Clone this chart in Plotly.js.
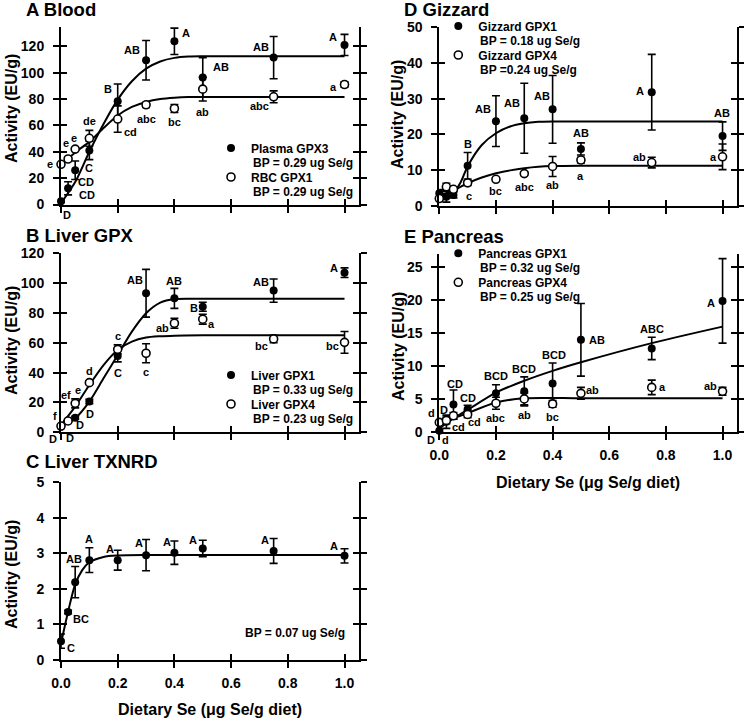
<!DOCTYPE html>
<html>
<head>
<meta charset="utf-8">
<script src="https://cdn.plot.ly/plotly-3.0.1.min.js"></script>
<style>
html,body{margin:0;padding:0;background:#fff;}
#chart{width:744px;height:719px;}
</style>
</head>
<body>
<div id="chart"></div>
<script>
// ---------------- DATA ----------------
const dose = [0, 0.025, 0.05, 0.1, 0.2, 0.3, 0.4, 0.5, 0.75, 1.0];

// A Blood
const plasmaGPX3 = [2.5, 12.3, 26, 41, 78.4, 109.4, 123.8, 96.3, 111.4, 121];
const plasmaGPX3Err = [1, 5, 7, 7, 13, 15, 10, 15, 16, 8];
const plasmaGPX3Letters = ['D','CD','CD','C','B','AB','A','AB','AB','A'];
const rbcGPX1 = [30.5, 34.5, 42, 50.2, 64.8, 75.6, 72.8, 87.5, 81.7, 91];
const rbcGPX1Err = [1, 1, 1, 6, 10, 2, 3, 9, 4.5, 2];
const rbcGPX1Letters = ['e','e','e','de','cd','abc','bc','ab','abc','a'];
const bloodFitX = [0, 0.05, 0.1, 0.15, 0.2, 0.25, 0.3, 0.35, 0.4, 0.45, 0.5, 0.75, 1.0];
const plasmaFitY = [1, 17, 40, 61, 79.5, 93.5, 103, 108.5, 111.2, 112.2, 112.4, 112.4, 112.4];
const rbcFitY = [30, 39.5, 47.5, 58, 67.5, 74, 77.8, 80, 81, 81.5, 81.6, 81.6, 81.6];

// B Liver GPX
const liverGPX1 = [3.8, 7.6, 9.8, 20.6, 51.2, 93.2, 89.8, 84.2, 95, 107];
const liverGPX1Err = [0.5, 0.5, 1, 1.5, 4, 16, 6.7, 3, 7.8, 3.2];
const liverGPX1Letters = ['D','D','D','D','C','AB','AB','B','AB','A'];
const liverGPX4 = [4.2, 7.6, 19.4, 33.3, 55.6, 53, 73.1, 75.8, 62.6, 60.3];
const liverGPX4Err = [0.5, 0.5, 3, 1, 3, 6.4, 3.3, 3.3, 2.5, 7.3];
const liverGPX4Letters = ['f','ef','e','d','c','c','ab','a','bc','bc'];
const liverFitX = [0, 0.05, 0.1, 0.15, 0.2, 0.25, 0.3, 0.35, 0.4, 0.5, 0.75, 1.0];
const liverGPX1FitY = [3.8, 9.4, 20.6, 36.2, 51.8, 67.5, 79.8, 86.9, 89.3, 89.5, 89.5, 89.5];
const liverGPX4FitY = [4.9, 17.2, 31.7, 45.1, 55.2, 60.8, 63.5, 64.4, 64.8, 65, 65, 65];

// C Liver TXNRD
const liverTXNRD = [0.53, 1.35, 2.19, 2.81, 2.81, 2.95, 3.02, 3.14, 3.07, 2.93];
const liverTXNRDErr = [0.2, 0.05, 0.44, 0.35, 0.28, 0.44, 0.33, 0.23, 0.35, 0.2];
const liverTXNRDLetters = ['C','BC','AB','A','A','A','A','A','A','A'];
const txnrdFitX = [0, 0.025, 0.05, 0.075, 0.1, 0.15, 0.2, 0.3, 0.5, 1.0];
const txnrdFitY = [0.47, 1.36, 2.13, 2.53, 2.75, 2.9, 2.94, 2.955, 2.955, 2.955];

// D Gizzard
const gizzardGPX1 = [3.5, 2.5, 3.0, 11.2, 23.7, 24.5, 27, 15.9, 31.8, 19.5];
const gizzardGPX1Err = [1, 1.5, 0.8, 3.7, 7.1, 9.8, 9.5, 1.7, 10.6, 4];
const gizzardGPX1Letters = ['','','','B','AB','AB','AB','AB','A','AB'];
const gizzardGPX4 = [2.0, 5.3, 4.6, 6.4, 7.4, 9.0, 11.0, 12.8, 12.1, 13.7];
const gizzardGPX4Err = [0.5, 1, 0.5, 0.7, 0.5, 0.5, 2.8, 0.8, 1.5, 3.6];
const gizzardGPX4Letters = ['','','','c','bc','abc','ab','a','ab','a'];
const gizzardFitX = [0, 0.025, 0.05, 0.075, 0.1, 0.15, 0.2, 0.25, 0.3, 0.35, 0.4, 0.5, 0.75, 1.0];
const gizzardGPX1FitY = [3.3, 3.4, 3.7, 6.5, 11, 17, 20.3, 22.2, 23.1, 23.5, 23.6, 23.6, 23.6, 23.6];
const gizzardGPX4FitY = [2.7, 3.4, 4.2, 5.3, 6.3, 7.9, 9.1, 9.9, 10.5, 10.9, 11.1, 11.2, 11.2, 11.2];

// E Pancreas
const pancreasGPX1 = [0.25, 1.6, 4.2, 3.5, 5.9, 6.2, 7.4, 14.0, 12.7, 19.9];
const pancreasGPX1Err = [0.2, 1, 2.2, 0.6, 1.3, 2.2, 3.1, 5.5, 1.7, 6.4];
const pancreasGPX1Letters = ['D','D','CD','CD','BCD','BCD','BCD','AB','ABC','A'];
const pancreasGPX4 = [1.5, 1.8, 2.5, 2.7, 4.4, 5.05, 4.3, 5.9, 6.8, 6.2];
const pancreasGPX4Err = [0.3, 0.5, 0.5, 0.5, 0.9, 0.9, 0.5, 0.9, 1.1, 0.6];
const pancreasGPX4Letters = ['d','d','cd','cd','abc','ab','bc','ab','a','ab'];
const pancreasGPX1FitX = [0, 0.05, 0.1, 0.2, 0.3, 0.4, 0.5, 0.75, 1.0];
const pancreasGPX1FitY = [0.6, 2.1, 3.4, 6.0, 7.8, 9.3, 10.6, 13.5, 16.0];
const pancreasGPX4FitX = [0, 0.05, 0.1, 0.2, 0.3, 0.5, 0.75, 1.0];
const pancreasGPX4FitY = [1.0, 2.1, 2.9, 4.5, 5.15, 5.15, 5.15, 5.15];

const panelTitles = ['A Blood', 'B Liver GPX', 'C Liver TXNRD', 'D Gizzard', 'E Pancreas'];
const yAxisTitle = 'Activity (EU/g)';
const xAxisTitle = 'Dietary Se (\u03bcg Se/g diet)';
const seriesNames = {
  plasma: 'Plasma GPX3', rbc: 'RBC GPX1',
  liver1: 'Liver GPX1', liver4: 'Liver GPX4',
  giz1: 'Gizzard GPX1', giz4: 'Gizzard GPX4',
  pan1: 'Pancreas GPX1', pan4: 'Pancreas GPX4'
};
const bpTexts = {
  plasma: 'BP = 0.29 ug Se/g', rbc: 'BP = 0.29 ug Se/g',
  liver1: 'BP = 0.33 ug Se/g', liver4: 'BP = 0.23 ug Se/g',
  giz1: 'BP = 0.18 ug Se/g', giz4: 'BP =0.24 ug Se/g',
  pan1: 'BP = 0.32 ug Se/g', pan4: 'BP = 0.25 ug Se/g',
  txnrd: 'BP = 0.07 ug Se/g'
};

// ---------------- STYLE / LAYOUT HELPERS ----------------
const W = 744, H = 719;
const FAM = 'Liberation Sans, Arial, Helvetica, sans-serif';
const px = v => v / W;
const py = v => 1 - v / H;

// label offsets (screen px, +y down) relative to each point
const offA1 = [[6,14],[19,7],[11,12],[0,18],[-10,-12],[-14,-10],[12,-8],[18,-11],[-13,-11],[-12,-8]];
const offA2 = [[-11,0],[-2,-16],[-1,-11],[0,-17],[13,13],[0,14],[0,13],[0,23],[-14,9],[-11,2]];
const offB1 = [[-8,12],[2,17],[5,7],[1,12],[0,17],[-11,-13],[0,-17],[-9,1],[-13,-9],[-11,-5]];
const offB2 = [[-6,-10],[-2,-26],[3,-13],[0,-12],[0,-13],[0,19],[-12,5],[9,5],[-12,7],[-12,4]];
const offC1 = [[10,7],[13,7],[-1,-23],[0,-21],[-8,-11],[-7,-12],[-7,-11],[-10,-8],[-9,-11],[-11,-10]];
const offD1 = [[0,0],[0,0],[0,0],[0,-22],[-13,-12],[-12,-15],[-11,-13],[0,-16],[-12,-1],[-1,-23]];
const offD2 = [[0,0],[0,0],[0,0],[1,13],[0,12],[0,13],[0,19],[0,16],[-12,-6],[-9,0]];
const offE1 = [[-8,9],[-2,-12],[2,-21],[0,-11],[0,-17],[0,-22],[1,-28],[16,0],[0,-19],[-12,2]];
const offE2 = [[-8,-9],[-1,20],[5,11],[7,8],[0,15],[0,16],[0,13],[12,-3],[11,0],[-12,-5]];

const panels = [
  {n:1, xd:[61,358.7], yd:[204.5,26.5], yr:[0,135], dt:20, xlab:false},
  {n:2, xd:[61,358.7], yd:[432.3,253.3], yr:[0,120], dt:20, xlab:false},
  {n:3, xd:[61,358.7], yd:[660,482.3], yr:[0,5], dt:1, xlab:true},
  {n:4, xd:[439.3,736.7], yd:[205.7,27.3], yr:[0,50], dt:10, xlab:false},
  {n:5, xd:[439.3,736.7], yd:[432.3,254], yr:[0,27], dt:5, xlab:true}
];

const layout = {
  width: W, height: H,
  margin: {l:0, r:0, t:0, b:0},
  paper_bgcolor: 'white', plot_bgcolor: 'rgba(0,0,0,0)',
  font: {family: FAM, color: 'black', weight: 'bold'},
  showlegend: true,
  annotations: []
};
const tickFont = {family: FAM, size: 14, color: 'black', weight: 'bold'};

panels.forEach(p => {
  const n = p.n, m = n + 5;
  const xdom = [px(p.xd[0]), px(p.xd[1])];
  const ydom = [py(p.yd[0]), py(p.yd[1])];
  layout['xaxis' + n] = {
    domain: xdom, range: [0, 1.05], autorange: false, anchor: 'y' + n,
    showline: true, linewidth: 2, linecolor: 'black', mirror: false,
    ticks: 'outside', ticklen: 6, tickwidth: 2, tickcolor: 'black',
    tick0: 0, dtick: 0.2, tickformat: '.1f', showticklabels: p.xlab,
    tickfont: tickFont, ticklabelstandoff: 3,
    showgrid: false, zeroline: false, fixedrange: true
  };
  layout['yaxis' + n] = {
    domain: ydom, range: p.yr, autorange: false, anchor: 'x' + n,
    showline: true, linewidth: 2, linecolor: 'black', mirror: 'ticks',
    ticks: 'outside', ticklen: 6, tickwidth: 2, tickcolor: 'black',
    tick0: 0, dtick: p.dt, showticklabels: true,
    tickfont: tickFont, ticklabelstandoff: 6,
    showgrid: false, zeroline: false, fixedrange: true
  };
  // overlay axes providing the inward half of the crossing ticks
  layout['xaxis' + m] = {
    overlaying: 'x' + n, anchor: 'y' + m, range: [0, 1.05], autorange: false,
    showline: false, ticks: 'inside', ticklen: 6, tickwidth: 2, tickcolor: 'black',
    tick0: 0, dtick: 0.2, showticklabels: false, showgrid: false, zeroline: false, fixedrange: true
  };
  layout['yaxis' + m] = {
    overlaying: 'y' + n, anchor: 'x' + m, range: p.yr, autorange: false,
    showline: false, mirror: 'ticks', ticks: 'inside', ticklen: 6, tickwidth: 2, tickcolor: 'black',
    tick0: 0, dtick: p.dt, showticklabels: false, showgrid: false, zeroline: false, fixedrange: true
  };
});

// ---------------- TRACES ----------------
const traces = [];
function fit(n, xs, ys) {
  traces.push({type:'scatter', mode:'lines', x: xs, y: ys, xaxis:'x'+n, yaxis:'y'+n,
    line:{color:'black', width:2, shape:'spline', smoothing:0.8},
    showlegend:false, hoverinfo:'skip', cliponaxis:false});
}
function pts(n, ys, err, filled, name, leg) {
  traces.push({type:'scatter', mode:'markers', x: dose, y: ys, xaxis:'x'+n, yaxis:'y'+n,
    name: name || '', showlegend: !!name, legend: leg, legendgroup: name ? leg + name : undefined,
    marker: filled ? {symbol:'circle', size:8, color:'black', line:{width:0}}
                   : {symbol:'circle', size:8, color:'white', line:{color:'black', width:1.6}},
    error_y: {type:'data', array: err, visible:true, color:'black', thickness:1.6, width:4},
    cliponaxis:false, hoverinfo:'x+y'});
}
function letters(n, ys, labs, offs) {
  labs.forEach((t, i) => {
    if (!t) return;
    layout.annotations.push({xref:'x'+n, yref:'y'+n, x: dose[i], y: ys[i], text: t,
      showarrow:false, xshift: offs[i][0], yshift: -offs[i][1],
      font:{family:FAM, size:11, color:'black', weight:'bold'}});
  });
}

// A
fit(1, bloodFitX, plasmaFitY); fit(1, bloodFitX, rbcFitY);
pts(1, plasmaGPX3, plasmaGPX3Err, true, seriesNames.plasma, 'legend');
pts(1, rbcGPX1, rbcGPX1Err, false, seriesNames.rbc, 'legend');
letters(1, plasmaGPX3, plasmaGPX3Letters, offA1); letters(1, rbcGPX1, rbcGPX1Letters, offA2);
// B
fit(2, liverFitX, liverGPX1FitY); fit(2, liverFitX, liverGPX4FitY);
pts(2, liverGPX1, liverGPX1Err, true, seriesNames.liver1, 'legend2');
pts(2, liverGPX4, liverGPX4Err, false, seriesNames.liver4, 'legend2');
letters(2, liverGPX1, liverGPX1Letters, offB1); letters(2, liverGPX4, liverGPX4Letters, offB2);
// C
fit(3, txnrdFitX, txnrdFitY);
pts(3, liverTXNRD, liverTXNRDErr, true, null, 'legend');
letters(3, liverTXNRD, liverTXNRDLetters, offC1);
// D
fit(4, gizzardFitX, gizzardGPX1FitY); fit(4, gizzardFitX, gizzardGPX4FitY);
pts(4, gizzardGPX1, gizzardGPX1Err, true, seriesNames.giz1, 'legend3');
pts(4, gizzardGPX4, gizzardGPX4Err, false, seriesNames.giz4, 'legend3');
letters(4, gizzardGPX1, gizzardGPX1Letters, offD1); letters(4, gizzardGPX4, gizzardGPX4Letters, offD2);
// E
fit(5, pancreasGPX1FitX, pancreasGPX1FitY); fit(5, pancreasGPX4FitX, pancreasGPX4FitY);
pts(5, pancreasGPX1, pancreasGPX1Err, true, seriesNames.pan1, 'legend4');
pts(5, pancreasGPX4, pancreasGPX4Err, false, seriesNames.pan4, 'legend4');
letters(5, pancreasGPX1, pancreasGPX1Letters, offE1); letters(5, pancreasGPX4, pancreasGPX4Letters, offE2);

// empty traces to activate overlay tick axes
for (let n = 6; n <= 10; n++) {
  traces.push({type:'scatter', mode:'markers', x:[], y:[], xaxis:'x'+n, yaxis:'y'+n,
    showlegend:false, hoverinfo:'skip'});
}

// ---------------- LEGENDS ----------------
function legendAt(xp, yp) {
  return {x: px(xp), y: py(yp), xanchor:'left', yanchor:'top', bgcolor:'rgba(0,0,0,0)',
    borderwidth:0, valign:'middle', traceorder:'grouped', tracegroupgap:10,
    itemclick:false, itemdoubleclick:false,
    font:{family:FAM, size:12, color:'black', weight:'bold'}};
}
// legend boxes: [left, top] in px; text starts 40px right of left edge
const legendBoxes = [[211,133.5],[211,360.5],[438.3,11.5],[438.3,238.8]];
layout.legend = legendAt(...legendBoxes[0]);
layout.legend2 = legendAt(...legendBoxes[1]);
layout.legend3 = legendAt(...legendBoxes[2]);
layout.legend4 = legendAt(...legendBoxes[3]);

// second lines of legend entries (BP values)
const bpLines = [
  [bpTexts.plasma, 251, 163], [bpTexts.rbc, 251, 192],
  [bpTexts.liver1, 251, 390], [bpTexts.liver4, 251, 419],
  [bpTexts.giz1, 478.3, 41], [bpTexts.giz4, 478.3, 70],
  [bpTexts.pan1, 478.3, 268.3], [bpTexts.pan4, 478.3, 297.3]
];
bpLines.forEach(b => {
  layout.annotations.push({xref:'paper', yref:'paper', x: px(b[1]), y: py(b[2]),
    xanchor:'left', yanchor:'middle', text: b[0], showarrow:false,
    font:{family:FAM, size:12, color:'black', weight:'bold'}});
});

// ---------------- TEXT ----------------
const titlePos = [[23.5,9.5],[23.5,235.5],[23.5,461.5],[401.7,9.5],[401.7,236]];
panelTitles.forEach((t, i) => {
  layout.annotations.push({xref:'paper', yref:'paper', x: px(titlePos[i][0]), y: py(titlePos[i][1]),
    xanchor:'left', yanchor:'middle', text: t, showarrow:false,
    font:{family:FAM, size:18.5, color:'black', weight:'bold'}});
});
const yTitlePos = [[11,109],[11,341],[11,575],[398,115],[398,347]];
yTitlePos.forEach(p => {
  layout.annotations.push({xref:'paper', yref:'paper', x: px(p[0]), y: py(p[1]),
    xanchor:'center', yanchor:'middle', textangle:-90, text: yAxisTitle, showarrow:false,
    font:{family:FAM, size:16, color:'black', weight:'bold'}});
});
[[210,709],[588,482]].forEach(p => {
  layout.annotations.push({xref:'paper', yref:'paper', x: px(p[0]), y: py(p[1]),
    xanchor:'center', yanchor:'middle', text: xAxisTitle, showarrow:false,
    font:{family:FAM, size:16, color:'black', weight:'bold'}});
});
layout.annotations.push({xref:'paper', yref:'paper', x: px(346.7), y: py(633.3),
  xanchor:'right', yanchor:'middle', text: bpTexts.txnrd, showarrow:false,
  font:{family:FAM, size:12, color:'black', weight:'bold'}});

Plotly.newPlot('chart', traces, layout, {staticPlot:true, displayModeBar:false});
</script>
</body>
</html>
